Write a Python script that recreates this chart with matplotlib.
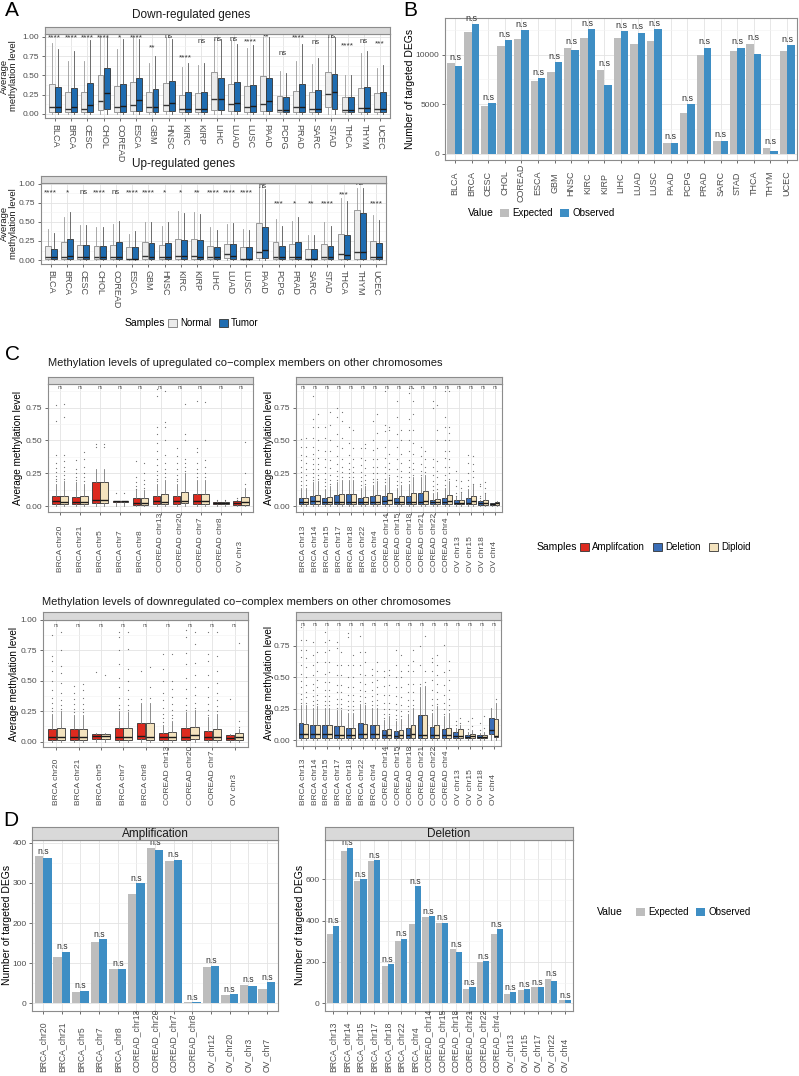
import numpy as np
import matplotlib.pyplot as plt
import matplotlib.transforms as mtrans
from matplotlib.patches import Patch
from matplotlib.ticker import MultipleLocator

plt.rcParams['font.family'] = ['Liberation Sans', 'DejaVu Sans']

# ---------------- data: panel A ----------------
cancers = ['BLCA', 'BRCA', 'CESC', 'CHOL', 'COREAD', 'ESCA', 'GBM', 'HNSC', 'KIRC', 'KIRP', 'LIHC',
           'LUAD', 'LUSC', 'PAAD', 'PCPG', 'PRAD', 'SARC', 'STAD', 'THCA', 'THYM', 'UCEC']

down_normal_q1 = [0.03, 0.03, 0.03, 0.05, 0.03, 0.04, 0.03, 0.04, 0.02, 0.02, 0.05, 0.04, 0.03, 0.04, 0.02, 0.03, 0.03, 0.09, 0.02, 0.03, 0.03]
down_normal_med = [0.095, 0.065, 0.07, 0.17, 0.095, 0.12, 0.095, 0.12, 0.06, 0.07, 0.19, 0.13, 0.095, 0.13, 0.05, 0.085, 0.07, 0.26, 0.05, 0.08, 0.07]
down_normal_q3 = [0.39, 0.29, 0.29, 0.51, 0.36, 0.41, 0.29, 0.40, 0.25, 0.27, 0.54, 0.39, 0.36, 0.49, 0.23, 0.30, 0.28, 0.54, 0.22, 0.34, 0.27]
down_normal_hi = [0.92, 0.68, 0.68, 1.0, 0.84, 1.0, 0.66, 1.0, 0.61, 0.63, 0.97, 0.96, 0.85, 1.0, 0.55, 0.68, 0.65, 1.0, 0.5, 0.79, 0.6]
down_tumor_q1 = [0.03, 0.03, 0.03, 0.06, 0.03, 0.04, 0.03, 0.04, 0.02, 0.02, 0.05, 0.04, 0.03, 0.04, 0.02, 0.03, 0.03, 0.07, 0.02, 0.03, 0.03]
down_tumor_med = [0.095, 0.085, 0.11, 0.27, 0.10, 0.18, 0.085, 0.14, 0.07, 0.07, 0.20, 0.14, 0.10, 0.17, 0.05, 0.095, 0.07, 0.28, 0.05, 0.08, 0.07]
down_tumor_q3 = [0.35, 0.34, 0.40, 0.60, 0.39, 0.46, 0.32, 0.43, 0.28, 0.28, 0.47, 0.41, 0.38, 0.47, 0.22, 0.39, 0.31, 0.52, 0.22, 0.35, 0.28]
down_tumor_hi = [0.84, 0.81, 0.96, 1.0, 0.97, 0.97, 0.75, 0.97, 0.66, 0.66, 0.97, 0.91, 0.89, 1.0, 0.53, 0.91, 0.72, 1.0, 0.5, 0.81, 0.63]
down_sig = ['****', '****', '****', '****', '*', '****', '**', 'ns', '****', 'ns', 'ns', 'ns', '****', '**', 'ns', '****', 'ns', 'ns', '****', 'ns', '***']
down_sig_y = [0.98, 0.98, 0.98, 0.98, 0.98, 0.98, 0.86, 1.0, 0.72, 0.94, 0.97, 0.97, 0.93, 1.0, 0.78, 0.98, 0.92, 1.0, 0.88, 0.94, 0.91]

up_normal_q1 = [0.02, 0.02, 0.02, 0.02, 0.02, 0.01, 0.02, 0.02, 0.02, 0.02, 0.02, 0.03, 0.01, 0.03, 0.02, 0.02, 0.01, 0.02, 0.02, 0.02, 0.02]
up_normal_med = [0.045, 0.045, 0.035, 0.045, 0.035, 0.02, 0.05, 0.045, 0.05, 0.05, 0.035, 0.08, 0.02, 0.11, 0.045, 0.035, 0.02, 0.045, 0.08, 0.11, 0.045]
up_normal_q3 = [0.18, 0.24, 0.20, 0.19, 0.20, 0.165, 0.23, 0.20, 0.27, 0.27, 0.18, 0.21, 0.17, 0.49, 0.24, 0.21, 0.14, 0.21, 0.34, 0.65, 0.25]
up_normal_hi = [0.41, 0.56, 0.46, 0.43, 0.47, 0.34, 0.50, 0.45, 0.64, 0.63, 0.43, 0.47, 0.41, 0.96, 0.54, 0.51, 0.33, 0.50, 0.81, 0.95, 0.59]
up_tumor_q1 = [0.02, 0.02, 0.02, 0.02, 0.02, 0.01, 0.02, 0.02, 0.02, 0.02, 0.02, 0.02, 0.01, 0.03, 0.02, 0.02, 0.01, 0.02, 0.02, 0.02, 0.02]
up_tumor_med = [0.035, 0.05, 0.035, 0.045, 0.035, 0.02, 0.035, 0.045, 0.05, 0.04, 0.035, 0.05, 0.02, 0.13, 0.035, 0.035, 0.02, 0.035, 0.065, 0.11, 0.035]
up_tumor_q3 = [0.15, 0.27, 0.20, 0.19, 0.23, 0.17, 0.22, 0.22, 0.26, 0.26, 0.17, 0.21, 0.165, 0.43, 0.18, 0.24, 0.14, 0.18, 0.33, 0.62, 0.22]
up_tumor_hi = [0.36, 0.63, 0.46, 0.43, 0.51, 0.38, 0.50, 0.50, 0.62, 0.61, 0.40, 0.48, 0.40, 0.93, 0.44, 0.565, 0.33, 0.44, 0.78, 0.95, 0.53]
up_sig = ['****', '*', 'ns', '****', 'ns', '****', '****', '*', '*', '**', '****', '****', '****', 'ns', '***', '*', '**', '****', '***', 'ns', '****']
up_sig_y = [0.88, 0.88, 0.88, 0.88, 0.88, 0.88, 0.88, 0.88, 0.88, 0.88, 0.88, 0.88, 0.88, 0.96, 0.74, 0.74, 0.74, 0.74, 0.86, 1.0, 0.74]

# ---------------- data: panel B ----------------
b_expected = [9150, 12270, 4810, 10920, 11590, 7290, 8200, 10680, 11690, 8470, 11630, 11120, 11360, 1020, 4070, 9930, 1290, 10340, 11120, 580, 10340]
b_observed = [8810, 13050, 5080, 11460, 12440, 7630, 9220, 10510, 12540, 6950, 12370, 12200, 12540, 1080, 4980, 10680, 1290, 10680, 10100, 270, 10950]

# ---------------- data: panel C ----------------
amp_up_regions = ['BRCA chr20', 'BRCA chr21', 'BRCA chr5', 'BRCA chr7', 'BRCA chr8', 'COREAD chr13', 'COREAD chr20', 'COREAD chr7', 'COREAD chr8', 'OV chr3']
del_regions_c = ['BRCA chr13', 'BRCA chr14', 'BRCA chr15', 'BRCA chr17', 'BRCA chr18', 'BRCA chr22', 'BRCA chr4', 'COREAD chr14', 'COREAD chr15',
                 'COREAD chr18', 'COREAD chr21', 'COREAD chr22', 'COREAD chr4', 'OV chr13', 'OV chr15', 'OV chr18', 'OV chr4']
amp_down_regions = ['BRCA chr20', 'BRCA chr21', 'BRCA chr5', 'BRCA chr7', 'BRCA chr8', 'COREAD chr13', 'COREAD chr20', 'COREAD chr7', 'OV chr3']

# upregulated, amplification vs diploid
cu_amp_q1 = [0.015, 0.015, 0.02, 0.03, 0.01, 0.015, 0.015, 0.015, 0.015, 0.01]
cu_amp_med = [0.035, 0.03, 0.05, 0.035, 0.02, 0.035, 0.035, 0.04, 0.02, 0.02]
cu_amp_q3 = [0.075, 0.07, 0.18, 0.04, 0.06, 0.075, 0.08, 0.09, 0.03, 0.035]
cu_amp_hi = [0.17, 0.18, 0.28, 0.04, 0.12, 0.17, 0.17, 0.2, 0.04, 0.04]
cu_amp_out = [[0.19, 0.21, 0.23, 0.26, 0.29, 0.33, 0.39, 0.65, 0.77], [0.2, 0.22, 0.25, 0.28, 0.35], [0.45, 0.47], [0.1],
              [0.13, 0.15, 0.18, 0.22, 0.34], [0.19, 0.21, 0.24, 0.27, 0.31, 0.36, 0.42, 0.48, 0.55, 0.6, 0.84, 0.89],
              [0.19, 0.21, 0.24, 0.28, 0.33, 0.38, 0.44], [0.22, 0.25, 0.28, 0.33, 0.41, 0.44, 0.8], [0.05], [0.05, 0.06]]
cu_ampdip_q1 = [0.015, 0.015, 0.02, 0.03, 0.01, 0.015, 0.02, 0.015, 0.015, 0.01]
cu_ampdip_med = [0.03, 0.03, 0.05, 0.035, 0.02, 0.03, 0.04, 0.04, 0.02, 0.03]
cu_ampdip_q3 = [0.08, 0.075, 0.18, 0.04, 0.06, 0.09, 0.11, 0.095, 0.03, 0.07]
cu_ampdip_hi = [0.19, 0.17, 0.28, 0.04, 0.12, 0.2, 0.25, 0.2, 0.045, 0.14]
cu_ampdip_out = [[0.21, 0.24, 0.27, 0.3, 0.34, 0.39, 0.68, 0.78], [0.19, 0.22, 0.25, 0.3, 0.36, 0.41], [0.45, 0.47], [0.1],
                 [0.14, 0.17, 0.2, 0.25, 0.33], [0.22, 0.25, 0.28, 0.33, 0.39, 0.5, 0.6, 0.64, 0.88],
                 [0.27, 0.3, 0.33, 0.36, 0.5, 0.55, 0.78], [0.22, 0.25, 0.3, 0.35, 0.5, 0.79], [0.05], [0.17, 0.25, 0.49]]

# upregulated, deletion vs diploid
cu_del_q1 = [0.015, 0.015, 0.015, 0.015, 0.015, 0.015, 0.015, 0.015, 0.015, 0.015, 0.015, 0.015, 0.015, 0.015, 0.015, 0.01, 0.01]
cu_del_med = [0.03, 0.035, 0.03, 0.03, 0.03, 0.03, 0.03, 0.04, 0.03, 0.03, 0.03, 0.03, 0.03, 0.025, 0.025, 0.02, 0.015]
cu_del_q3 = [0.065, 0.075, 0.06, 0.085, 0.09, 0.065, 0.075, 0.08, 0.065, 0.075, 0.1, 0.05, 0.065, 0.045, 0.06, 0.035, 0.02]
cu_del_hi = [0.14, 0.18, 0.13, 0.18, 0.2, 0.14, 0.16, 0.16, 0.14, 0.17, 0.22, 0.1, 0.14, 0.07, 0.13, 0.05, 0.02]
cu_del_out = [[0.16, 0.19, 0.22, 0.26, 0.3, 0.35, 0.39, 0.45, 0.51], [0.2, 0.22, 0.25, 0.28, 0.32, 0.36, 0.4, 0.45, 0.52, 0.6, 0.66, 0.84],
              [0.15, 0.18, 0.21, 0.25, 0.3, 0.36, 0.42, 0.52, 0.6], [0.2, 0.23, 0.27, 0.32, 0.38, 0.46, 0.55, 0.68, 0.75],
              [0.22, 0.25, 0.28, 0.33, 0.39, 0.48, 0.6], [0.16, 0.19, 0.22, 0.26, 0.31, 0.37, 0.44],
              [0.18, 0.21, 0.25, 0.3, 0.36, 0.43, 0.5, 0.65], [0.18, 0.21, 0.25, 0.3, 0.37, 0.45, 0.57, 0.62, 0.88],
              [0.16, 0.19, 0.23, 0.28, 0.36, 0.45, 0.55, 0.68, 0.8], [0.19, 0.22, 0.26, 0.3, 0.35, 0.42, 0.5, 0.58, 0.66, 0.86, 0.9],
              [0.24, 0.27, 0.32, 0.38, 0.45], [0.12, 0.15, 0.19, 0.24, 0.3, 0.36, 0.75, 0.8],
              [0.16, 0.2, 0.24, 0.3, 0.37, 0.42, 0.5, 0.6, 0.68, 0.88], [0.08, 0.1, 0.15, 0.2, 0.27],
              [0.15, 0.2, 0.25, 0.33, 0.39], [0.06, 0.08, 0.15, 0.17], []]
cu_deldip_q1 = [0.015, 0.015, 0.015, 0.015, 0.015, 0.015, 0.015, 0.015, 0.015, 0.015, 0.015, 0.015, 0.015, 0.015, 0.015, 0.01, 0.01]
cu_deldip_med = [0.03, 0.035, 0.03, 0.03, 0.03, 0.03, 0.03, 0.05, 0.03, 0.03, 0.04, 0.03, 0.04, 0.025, 0.035, 0.025, 0.02]
cu_deldip_q3 = [0.065, 0.085, 0.07, 0.09, 0.09, 0.07, 0.085, 0.1, 0.075, 0.1, 0.115, 0.055, 0.085, 0.05, 0.075, 0.045, 0.03]
cu_deldip_hi = [0.14, 0.19, 0.15, 0.2, 0.2, 0.15, 0.19, 0.22, 0.16, 0.22, 0.24, 0.11, 0.19, 0.1, 0.16, 0.09, 0.035]
cu_deldip_out = [[0.16, 0.2, 0.24, 0.28, 0.33, 0.38, 0.45, 0.52], [0.21, 0.24, 0.28, 0.32, 0.37, 0.43, 0.5, 0.6, 0.7],
                 [0.17, 0.2, 0.24, 0.29, 0.35, 0.42, 0.5, 0.62, 0.72], [0.22, 0.26, 0.3, 0.36, 0.44, 0.52, 0.65, 0.72],
                 [0.22, 0.26, 0.3, 0.36, 0.44, 0.58], [0.17, 0.2, 0.24, 0.29, 0.35, 0.44, 0.47],
                 [0.21, 0.25, 0.3, 0.36, 0.44, 0.56, 0.7], [0.24, 0.28, 0.33, 0.4, 0.5, 0.58, 0.6],
                 [0.18, 0.22, 0.27, 0.33, 0.4, 0.5, 0.58], [0.24, 0.28, 0.33, 0.4, 0.48, 0.58, 0.7, 0.8, 0.9],
                 [0.26, 0.3, 0.36, 0.42], [0.13, 0.17, 0.22, 0.27, 0.34, 0.5, 0.58, 0.77],
                 [0.21, 0.25, 0.3, 0.36, 0.42, 0.5, 0.56, 0.6, 0.88], [0.11, 0.14, 0.19],
                 [0.17, 0.22, 0.27, 0.32, 0.38], [0.1, 0.14, 0.18], []]

# downregulated, amplification vs diploid
cd_amp_q1 = [0.015, 0.015, 0.02, 0.015, 0.02, 0.015, 0.015, 0.015, 0.015]
cd_amp_med = [0.035, 0.035, 0.045, 0.035, 0.045, 0.035, 0.04, 0.035, 0.03]
cd_amp_q3 = [0.1, 0.1, 0.065, 0.11, 0.15, 0.07, 0.11, 0.09, 0.05]
cd_amp_hi = [0.23, 0.22, 0.07, 0.25, 0.32, 0.14, 0.24, 0.2, 0.06]
cd_amp_out = [[0.25, 0.28, 0.32, 0.36, 0.42, 0.5, 0.58, 0.66, 0.7, 0.88], [0.24, 0.27, 0.31, 0.35, 0.4, 0.46], [0.57],
              [0.27, 0.3, 0.36, 0.45, 0.52, 0.64, 0.75, 0.86, 0.9], [0.35, 0.58],
              [0.16, 0.19, 0.23, 0.28, 0.34, 0.4, 0.5, 0.6, 0.72], [0.26, 0.3, 0.36, 0.43, 0.52, 0.64, 0.73, 0.86, 0.92],
              [0.22, 0.26, 0.31, 0.37, 0.45, 0.55, 0.66, 0.72, 0.9], [0.35]]
cd_ampdip_q1 = [0.015, 0.015, 0.02, 0.015, 0.01, 0.015, 0.02, 0.015, 0.015]
cd_ampdip_med = [0.035, 0.035, 0.045, 0.035, 0.04, 0.035, 0.05, 0.04, 0.04]
cd_ampdip_q3 = [0.11, 0.1, 0.065, 0.11, 0.15, 0.075, 0.12, 0.105, 0.07]
cd_ampdip_hi = [0.25, 0.22, 0.07, 0.24, 0.32, 0.17, 0.26, 0.23, 0.1]
cd_ampdip_out = [[0.27, 0.3, 0.34, 0.4, 0.48, 0.56, 0.62, 0.75, 0.9], [0.24, 0.27, 0.31, 0.36, 0.42, 0.47], [0.55],
                 [0.26, 0.3, 0.35, 0.42, 0.5, 0.6, 0.76, 0.9], [0.36, 0.45, 0.61],
                 [0.19, 0.22, 0.26, 0.31, 0.37, 0.43, 0.5, 0.72], [0.28, 0.32, 0.38, 0.45, 0.55, 0.65, 0.8, 0.9],
                 [0.25, 0.29, 0.34, 0.4, 0.48, 0.58, 0.7, 0.9], [0.12, 0.17, 0.81]]

# downregulated, deletion vs diploid
cd_del_q1 = [0.02, 0.02, 0.02, 0.02, 0.02, 0.02, 0.02, 0.02, 0.02, 0.02, 0.02, 0.02, 0.02, 0.02, 0.015, 0.015, 0.05]
cd_del_med = [0.05, 0.05, 0.05, 0.045, 0.045, 0.05, 0.05, 0.04, 0.035, 0.04, 0.04, 0.04, 0.04, 0.035, 0.025, 0.025, 0.08]
cd_del_q3 = [0.135, 0.12, 0.12, 0.11, 0.10, 0.135, 0.12, 0.08, 0.075, 0.10, 0.2, 0.105, 0.09, 0.07, 0.045, 0.045, 0.175]
cd_del_hi = [0.28, 0.26, 0.26, 0.24, 0.22, 0.29, 0.26, 0.16, 0.15, 0.21, 0.42, 0.22, 0.19, 0.1, 0.07, 0.06, 0.26]
cd_del_out = [[0.3, 0.33, 0.37, 0.42, 0.47, 0.53, 0.6, 0.66, 0.72, 0.8, 0.9], [0.28, 0.31, 0.35, 0.4, 0.45, 0.52, 0.6, 0.68, 0.78],
              [0.28, 0.31, 0.35, 0.4, 0.46, 0.53, 0.62, 0.7, 0.78, 0.86], [0.26, 0.29, 0.33, 0.38, 0.44, 0.52, 0.6, 0.73, 0.78],
              [0.24, 0.27, 0.31, 0.36, 0.42, 0.5, 0.6, 0.82, 0.85], [0.31, 0.35, 0.4, 0.46, 0.53, 0.6, 0.7, 0.83],
              [0.28, 0.31, 0.35, 0.4, 0.46, 0.52, 0.57], [0.18, 0.21, 0.25, 0.3, 0.36, 0.43, 0.5, 0.55],
              [0.17, 0.2, 0.24, 0.29, 0.35, 0.42, 0.5, 0.6, 0.72], [0.23, 0.27, 0.32, 0.38, 0.45, 0.55, 0.6],
              [0.45, 0.6, 0.75], [0.24, 0.28, 0.33, 0.4, 0.48, 0.55, 0.62, 0.65], [0.21, 0.25, 0.3, 0.36, 0.44, 0.54, 0.76],
              [0.12, 0.15], [0.09, 0.15], [0.08, 0.14], []]
cd_deldip_q1 = [0.02, 0.02, 0.02, 0.02, 0.02, 0.02, 0.02, 0.02, 0.02, 0.02, 0.02, 0.02, 0.02, 0.02, 0.015, 0.015, 0.03]
cd_deldip_med = [0.05, 0.05, 0.05, 0.045, 0.045, 0.05, 0.05, 0.04, 0.04, 0.05, 0.04, 0.04, 0.04, 0.035, 0.035, 0.03, 0.035]
cd_deldip_q3 = [0.13, 0.125, 0.12, 0.11, 0.10, 0.13, 0.12, 0.09, 0.08, 0.12, 0.2, 0.125, 0.1, 0.09, 0.05, 0.045, 0.17]
cd_deldip_hi = [0.28, 0.27, 0.26, 0.24, 0.22, 0.28, 0.26, 0.19, 0.17, 0.26, 0.43, 0.27, 0.22, 0.12, 0.08, 0.07, 0.3]
cd_deldip_out = [[0.3, 0.34, 0.38, 0.44, 0.5, 0.58, 0.65, 0.72, 0.8], [0.29, 0.32, 0.36, 0.42, 0.48, 0.55, 0.62, 0.7],
                 [0.28, 0.31, 0.35, 0.4, 0.46, 0.54, 0.62, 0.72, 0.8], [0.26, 0.29, 0.33, 0.38, 0.44, 0.52, 0.6, 0.7],
                 [0.24, 0.27, 0.31, 0.36, 0.42, 0.5, 0.6, 0.68], [0.3, 0.34, 0.39, 0.45, 0.52, 0.62, 0.7],
                 [0.28, 0.32, 0.37, 0.42, 0.48, 0.55, 0.62], [0.21, 0.25, 0.3, 0.36, 0.44, 0.52, 0.56],
                 [0.19, 0.23, 0.28, 0.34, 0.42, 0.5, 0.55, 0.68], [0.28, 0.32, 0.38, 0.45, 0.55, 0.63, 0.72],
                 [0.46, 0.55, 0.83], [0.29, 0.33, 0.38, 0.45, 0.52, 0.6, 0.68], [0.24, 0.28, 0.33, 0.4, 0.48, 0.56, 0.63],
                 [0.14, 0.18], [0.11, 0.18], [0.1, 0.19], [0.33]]

# ---------------- data: panel D ----------------
amp_regions = ['BRCA_chr20', 'BRCA_chr21', 'BRCA_chr5', 'BRCA_chr7', 'BRCA_chr8', 'COREAD_chr13', 'COREAD_chr20',
               'COREAD_chr7', 'COREAD_chr8', 'OV_chr12', 'OV_chr20', 'OV_chr3', 'OV_chr7']
amp_expected = [366, 115, 28, 153, 85, 272, 388, 354, 3, 91, 22, 46, 36]
amp_observed = [363, 129, 31, 160, 86, 299, 382, 358, 3, 94, 23, 44, 53]
del_regions = ['BRCA_chr13', 'BRCA_chr14', 'BRCA_chr15', 'BRCA_chr17', 'BRCA_chr18', 'BRCA_chr22', 'BRCA_chr4',
               'COREAD_chr14', 'COREAD_chr15', 'COREAD_chr18', 'COREAD_chr21', 'COREAD_chr22', 'COREAD_chr4',
               'OV_chr13', 'OV_chr15', 'OV_chr17', 'OV_chr22', 'OV_chr4']
del_expected = [333, 739, 592, 688, 181, 301, 384, 416, 387, 261, 69, 200, 336, 46, 64, 77, 117, 13]
del_observed = [376, 752, 600, 693, 189, 312, 565, 421, 389, 248, 78, 203, 357, 53, 67, 78, 107, 13]

# ---------------- styling ----------------
C_NORMAL, C_TUMOR = '#EBEBEB', '#1F6CB0'
C_EXP, C_OBS = '#BDBDBD', '#3E8EC4'
C_AMP, C_DEL, C_DIP = '#DD2A1F', '#3A6EB7', '#F4E3BE'
TXT = '#4D4D4D'

W, H = 799, 1076
fig = plt.figure(figsize=(W / 100, H / 100), dpi=100)


def rect(l, t, r, b):
    return [l / W, 1 - b / H, (r - l) / W, (b - t) / H]


def panel(l, t, r, b, strip_top=None, strip_text=None):
    ax = fig.add_axes(rect(l, t, r, b))
    for s in ax.spines.values():
        s.set_color('#8C8C8C')
        s.set_linewidth(0.8)
    ax.grid(True, which='major', color='#E3E3E3', lw=0.6)
    ax.grid(True, which='minor', axis='y', color='#F2F2F2', lw=0.4)
    ax.set_axisbelow(True)
    ax.tick_params(which='major', length=2.5, width=0.6, color='#555555', labelsize=6, labelcolor=TXT, pad=1.5)
    ax.tick_params(which='minor', length=0)
    if strip_top is not None:
        sx = fig.add_axes(rect(l, strip_top, r, t))
        sx.set_facecolor('#D9D9D9')
        sx.set_xticks([])
        sx.set_yticks([])
        for s in sx.spines.values():
            s.set_color('#8C8C8C')
            s.set_linewidth(0.8)
        if strip_text:
            sx.text(0.5, 0.45, strip_text, ha='center', va='center', fontsize=8.5, color='#1A1A1A', transform=sx.transAxes)
    return ax


def boxes(ax, pos, q1, med, q3, hi, face, width, fliers=None, edge='#333333', wcol='#7A7A7A', medc='#1A1A1A'):
    stats = []
    for i in range(len(pos)):
        stats.append(dict(q1=q1[i], med=med[i], q3=q3[i], whislo=0.0, whishi=hi[i],
                          fliers=fliers[i] if fliers is not None else []))
    ax.bxp(stats, positions=pos, widths=width, patch_artist=True, showcaps=False,
           showfliers=fliers is not None, manage_ticks=False,
           boxprops=dict(facecolor=face, edgecolor=edge, linewidth=0.6),
           medianprops=dict(color=medc, linewidth=1.0),
           whiskerprops=dict(color=wcol, linewidth=0.6),
           flierprops=dict(marker='o', markersize=0.9, markerfacecolor='#444444',
                           markeredgecolor='none', alpha=0.75))


def rot_labels(ax, labels, y_px, size=6, va='bottom'):
    tr = mtrans.blended_transform_factory(ax.transData, fig.transFigure)
    for i, lab in enumerate(labels):
        ax.text(i, 1 - y_px / H, lab, rotation=90, ha='center', va=va, fontsize=size, color=TXT, transform=tr)


# ================= Panel A =================
fig.text(5 / W, 1 - 10 / H, 'A', fontsize=15, va='center', ha='left')
xa = np.arange(len(cancers))
for (t, b, l, r, title, tx, n1, m1, u1, h1, n2, m2, u2, h2, sig, sigy, ylim) in [
        (34, 118, 45, 390, 'Down-regulated genes', 191,
         down_normal_q1, down_normal_med, down_normal_q3, down_normal_hi,
         down_tumor_q1, down_tumor_med, down_tumor_q3, down_tumor_hi, down_sig, down_sig_y, (-0.052, 1.035)),
        (183, 264, 41, 386, 'Up-regulated genes', 184,
         up_normal_q1, up_normal_med, up_normal_q3, up_normal_hi,
         up_tumor_q1, up_tumor_med, up_tumor_q3, up_tumor_hi, up_sig, up_sig_y, (-0.052, 1.01))]:
    ax = panel(l, t, r, b, strip_top=t - 7)
    boxes(ax, xa - 0.19, n1, m1, u1, h1, C_NORMAL, 0.36, edge='#8A8A8A', wcol='#9A9A9A', medc='#333333')
    boxes(ax, xa + 0.19, n2, m2, u2, h2, C_TUMOR, 0.36, edge='#333333', wcol='#555555', medc='#1A1A1A')
    for i, (s, y) in enumerate(zip(sig, sigy)):
        ax.text(i, y, s, ha='center', va='center', fontsize=5.5 if s == 'ns' else 6, color='#333333')
    ax.set_xlim(-0.6, len(cancers) - 0.4)
    ax.set_ylim(*ylim)
    ax.set_yticks([0, 0.25, 0.5, 0.75, 1.0])
    ax.set_yticklabels(['0.00', '0.25', '0.50', '0.75', '1.00'])
    ax.yaxis.set_minor_locator(MultipleLocator(0.125))
    ax.set_xticks(xa)
    ax.set_xticklabels(cancers, rotation=270, fontsize=6.5)
    fig.text(tx / W, 1 - (t - 19) / H, title, ha='center', va='center', fontsize=8.5, color='#1A1A1A')
    fig.text(9 / W, 1 - ((t + b) / 2) / H, 'Average\nmethylation level', rotation=90, ha='center', va='center',
             fontsize=6.8, color='#1A1A1A', linespacing=1.0)

fig.text(125 / W, 1 - 323 / H, 'Samples', fontsize=7.5, va='center')
fig.legend(handles=[Patch(facecolor=C_NORMAL, edgecolor='#777777', lw=0.6),
                    Patch(facecolor=C_TUMOR, edgecolor='#333333', lw=0.6)],
           labels=['Normal', 'Tumor'], loc='center left', bbox_to_anchor=(168 / W, 1 - 323 / H), ncol=2,
           frameon=False, fontsize=7, handlelength=0.9, handleheight=0.9, handletextpad=0.35,
           columnspacing=0.8, borderpad=0, borderaxespad=0)

# ================= Panel B =================
fig.text(403 / W, 1 - 10 / H, 'B', fontsize=15, va='center', ha='left')
axb = panel(445, 18, 797, 160)
xb = np.arange(len(cancers))
axb.bar(xb - 0.225, b_expected, width=0.45, color=C_EXP)
axb.bar(xb + 0.225, b_observed, width=0.45, color=C_OBS)
for i in range(len(cancers)):
    axb.text(i, max(b_expected[i], b_observed[i]) + 150, 'n.s', ha='center', va='bottom', fontsize=6.5, color='#333333')
axb.set_xlim(-0.6, len(cancers) - 0.4)
axb.set_ylim(-650, 13700)
axb.set_yticks([0, 5000, 10000])
axb.yaxis.set_minor_locator(MultipleLocator(2500))
axb.set_xticks(xb)
axb.set_xticklabels([])
rot_labels(axb, cancers, 183, size=6.5, va='center')
fig.text(410 / W, 1 - 89 / H, 'Number of targeted DEGs', rotation=90, ha='center', va='center', fontsize=7.5)
fig.text(468 / W, 1 - 213 / H, 'Value', fontsize=7.5, va='center')
fig.legend(handles=[Patch(facecolor=C_EXP), Patch(facecolor=C_OBS)], labels=['Expected', 'Observed'],
           loc='center left', bbox_to_anchor=(500 / W, 1 - 213 / H), ncol=2, frameon=False, fontsize=7,
           handlelength=0.9, handleheight=0.9, handletextpad=0.35, columnspacing=0.8, borderpad=0, borderaxespad=0)

# ================= Panel C =================
fig.text(5 / W, 1 - 355 / H, 'C', fontsize=15, va='center', ha='left')
fig.text(48 / W, 1 - 363 / H, 'Methylation levels of upregulated co\u2212complex members on other chromosomes',
         fontsize=8, va='center', ha='left', color='#1A1A1A')
fig.text(42 / W, 1 - 602 / H, 'Methylation levels of downregulated co\u2212complex members on other chromosomes',
         fontsize=8, va='center', ha='left', color='#1A1A1A')

c_panels = [
    (48, 384, 253, 512, 377, amp_up_regions, C_AMP,
     (cu_amp_q1, cu_amp_med, cu_amp_q3, cu_amp_hi, cu_amp_out),
     (cu_ampdip_q1, cu_ampdip_med, cu_ampdip_q3, cu_ampdip_hi, cu_ampdip_out), (-0.045, 0.93), 0.905, 572, 18),
    (296, 384, 502, 512, 377, del_regions_c, C_DEL,
     (cu_del_q1, cu_del_med, cu_del_q3, cu_del_hi, cu_del_out),
     (cu_deldip_q1, cu_deldip_med, cu_deldip_q3, cu_deldip_hi, cu_deldip_out), (-0.045, 0.93), 0.905, 572, 269),
    (43, 620, 248, 747, 612, amp_down_regions, C_AMP,
     (cd_amp_q1, cd_amp_med, cd_amp_q3, cd_amp_hi, cd_amp_out),
     (cd_ampdip_q1, cd_ampdip_med, cd_ampdip_q3, cd_ampdip_hi, cd_ampdip_out), (-0.045, 1.0), 0.955, 805, 14),
    (296, 620, 501, 746, 612, del_regions_c, C_DEL,
     (cd_del_q1, cd_del_med, cd_del_q3, cd_del_hi, cd_del_out),
     (cd_deldip_q1, cd_deldip_med, cd_deldip_q3, cd_deldip_hi, cd_deldip_out), (-0.045, 0.955), 0.92, 805, 269),
]
for (l, t, r, b, st, regs, col, g1, g2, ylim, nsy, lab_y, ylab_x) in c_panels:
    ax = panel(l, t, r, b, strip_top=st)
    xc = np.arange(len(regs))
    boxes(ax, xc - 0.2, g1[0], g1[1], g1[2], g1[3], col, 0.38, fliers=g1[4])
    boxes(ax, xc + 0.2, g2[0], g2[1], g2[2], g2[3], C_DIP, 0.38, fliers=g2[4])
    for i in range(len(regs)):
        ax.text(i, nsy, 'ns', ha='center', va='center', fontsize=3.5, color='#555555')
    ax.set_xlim(-0.6, len(regs) - 0.4)
    ax.set_ylim(*ylim)
    yt = [0, 0.25, 0.5, 0.75, 1.0] if ylim[1] >= 0.999 else [0, 0.25, 0.5, 0.75]
    ax.set_yticks(yt)
    ax.set_yticklabels(['%.2f' % v for v in yt])
    ax.yaxis.set_minor_locator(MultipleLocator(0.125))
    ax.set_xticks(xc)
    ax.set_xticklabels([])
    rot_labels(ax, regs, lab_y, size=6)
    fig.text(ylab_x / W, 1 - ((t + b) / 2) / H, 'Average methylation level', rotation=90, ha='center',
             va='center', fontsize=7.2)

fig.text(537 / W, 1 - 547 / H, 'Samples', fontsize=7.5, va='center')
fig.legend(handles=[Patch(facecolor=C_AMP, edgecolor='#333333', lw=0.6),
                    Patch(facecolor=C_DEL, edgecolor='#333333', lw=0.6),
                    Patch(facecolor=C_DIP, edgecolor='#333333', lw=0.6)],
           labels=['Amplifcation', 'Deletion', 'Diploid'], loc='center left',
           bbox_to_anchor=(580 / W, 1 - 547 / H), ncol=3, frameon=False, fontsize=7,
           handlelength=0.9, handleheight=0.9, handletextpad=0.3, columnspacing=0.9, borderpad=0, borderaxespad=0)

# ================= Panel D =================
fig.text(3 / W, 1 - 821 / H, 'D', fontsize=15, va='center', ha='left')
for (l, r, strip, regs, ev, ov, ylim, step, ylab_x) in [
        (32, 278, 'Amplification', amp_regions, amp_expected, amp_observed, (-19, 407), 100, 7),
        (325, 573, 'Deletion', del_regions, del_expected, del_observed, (-38, 790), 200, 300)]:
    ax = panel(l, 840, r, 1011, strip_top=827, strip_text=strip)
    xd = np.arange(len(regs))
    ax.bar(xd - 0.225, ev, width=0.45, color=C_EXP)
    ax.bar(xd + 0.225, ov, width=0.45, color=C_OBS)
    for i in range(len(regs)):
        ax.text(i, max(ev[i], ov[i]) + ylim[1] * 0.003, 'n.s', ha='center', va='bottom', fontsize=6.2, color='#333333')
    ax.set_xlim(-0.6, len(regs) - 0.4)
    ax.set_ylim(*ylim)
    ax.yaxis.set_major_locator(MultipleLocator(step))
    ax.yaxis.set_minor_locator(MultipleLocator(step / 2))
    ax.set_xticks(xd)
    ax.set_xticklabels([])
    rot_labels(ax, regs, 1072, size=6.2)
    fig.text(ylab_x / W, 1 - 925 / H, 'Number of targeted DEGs', rotation=90, ha='center', va='center', fontsize=7.5)

fig.text(597 / W, 1 - 912 / H, 'Value', fontsize=7.5, va='center')
fig.legend(handles=[Patch(facecolor=C_EXP), Patch(facecolor=C_OBS)], labels=['Expected', 'Observed'],
           loc='center left', bbox_to_anchor=(636 / W, 1 - 912 / H), ncol=2, frameon=False, fontsize=7,
           handlelength=0.9, handleheight=0.9, handletextpad=0.35, columnspacing=0.8, borderpad=0, borderaxespad=0)

fig.savefig('out.png', dpi=100)
